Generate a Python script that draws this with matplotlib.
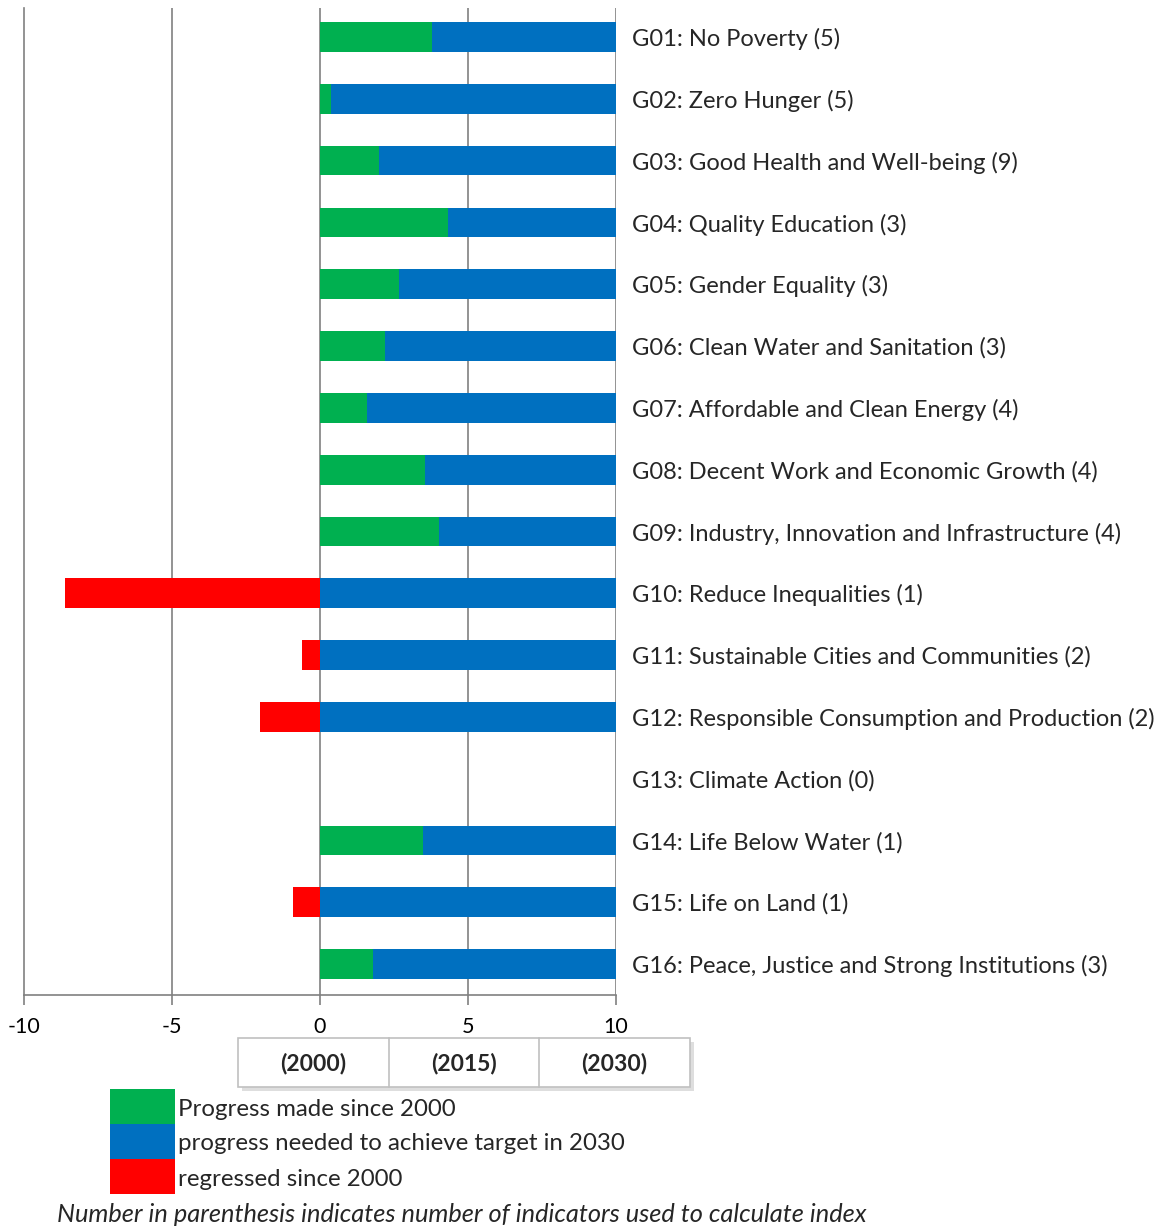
#horizontal bar chart of SDG progress index (2000 -> 2030)
import matplotlib.pyplot as plt
from matplotlib.patches import Rectangle
from matplotlib.transforms import Affine2D

plt.rcParams['font.family'] = ['Lato', 'DejaVu Sans']

goals = ['G01: No Poverty (5)', 'G02: Zero Hunger (5)', 'G03: Good Health and Well-being (9)',
         'G04: Quality Education (3)', 'G05: Gender Equality (3)', 'G06: Clean Water and Sanitation (3)',
         'G07: Affordable and Clean Energy (4)', 'G08: Decent Work and Economic Growth (4)',
         'G09: Industry, Innovation and Infrastructure (4)', 'G10: Reduce Inequalities (1)',
         'G11: Sustainable Cities and Communities (2)', 'G12: Responsible Consumption and Production (2)',
         'G13: Climate Action (0)', 'G14: Life Below Water (1)', 'G15: Life on Land (1)',
         'G16: Peace, Justice and Strong Institutions (3)']
progress = [3.78, 0.37, 2.0, 4.32, 2.67, 2.2, 1.59, 3.55, 4.02, -8.61, -0.61, -2.03, None, 3.48, -0.91, 1.79]
target = 10
years = ['(2000)', '(2015)', '(2030)']
legend_labels = ['Progress made since 2000', 'progress needed to achieve target in 2030', 'regressed since 2000']
note = 'Number in parenthesis indicates number of indicators used to calculate index'

green, blue, red = '#00B050', '#0070C0', '#FF0000'

W, H = 1167, 1228
fig = plt.figure(figsize=(W/100, H/100), dpi=100)
ax = fig.add_axes([24/W, 1-995/H, (616-24)/W, (995-8)/H])

for i, v in enumerate(progress):
    if v is None:
        continue
    if v >= 0:
        ax.barh(i, v, left=0, height=0.48, color=green)
        ax.barh(i, target-v, left=v, height=0.48, color=blue)
    else:
        ax.barh(i, v, left=0, height=0.48, color=red)
        ax.barh(i, target, left=0, height=0.48, color=blue)
    
for i, g in enumerate(goals):
    ax.text(10.55, i, g, va='center_baseline', ha='left', fontsize=17, color='#262626')

ax.set_xlim(-10, 10)
ax.set_ylim(15.5, -0.47)
ax.set_xticks([-10, -5, 0, 5, 10])
ax.set_xticklabels(['-10', '-5', '0', '5', '10'], fontsize=15.5)
ax.set_yticks([])
for x in [-5, 0, 5, 10]:
    ax.axvline(x, color='#808080', lw=1.2, zorder=0)
for s in ['top', 'right']:
    ax.spines[s].set_visible(False)
ax.spines['left'].set_color('#808080')
ax.spines['bottom'].set_color('#808080')
ax.spines['left'].set_linewidth(1.2)
ax.spines['bottom'].set_linewidth(1.2)
ax.tick_params(axis='x', direction='out', length=7, width=1.2, color='#808080', pad=9)
ax.set_axisbelow(True)

#pixel coordinates (top-left origin) for the extra boxes below the axis
px = Affine2D().scale(1/W, -1/H).translate(0, 1) + fig.transFigure

#year box with a soft shadow
fig.patches.append(Rectangle((242, 1042), 452, 49, transform=px, facecolor='#c8c8c8', edgecolor='none', alpha=0.6))
fig.patches.append(Rectangle((238, 1038), 452, 49, transform=px, facecolor='white', edgecolor='#c0c0c0', lw=1.2))
for k, yr in enumerate(years):
    x0 = 238 + k*150.7
    if k > 0:
        fig.add_artist(plt.Line2D([x0, x0], [1038, 1087], transform=px, color='#c0c0c0', lw=1.2))
    fig.text((x0+75)/W, 1-1063/H, yr, ha='center', va='center', fontsize=16.5, fontweight='bold', color='#262626')

#legend
for k, (c, lab) in enumerate(zip([green, blue, red], legend_labels)):
    y0 = 1089 + k*35
    fig.patches.append(Rectangle((110, y0), 65, 35, transform=px, facecolor=c, edgecolor='none'))
    fig.text(178/W, 1-(y0+20)/H, lab, ha='left', va='center', fontsize=17.3, color='#262626')

fig.text(57/W, 1-1214/H, note, ha='left', va='center', fontsize=18.3, style='italic', color='#262626')

plt.savefig('out.png', dpi=100)
